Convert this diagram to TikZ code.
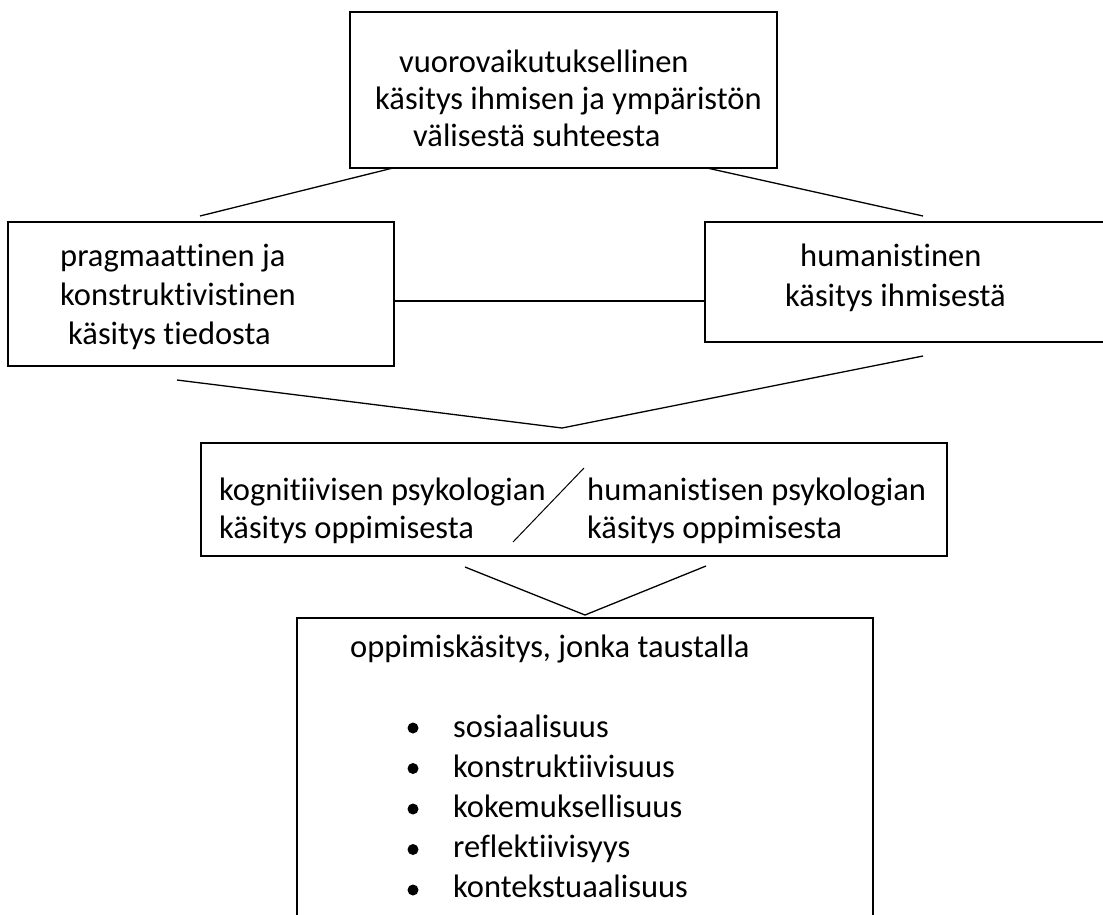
\documentclass[tikz,border=0pt]{standalone}
\usepackage{fontspec}
\setmainfont{Carlito}[Ligatures={NoCommon}]
\begin{document}
\begin{tikzpicture}[x=1pt,y=-1pt,
  line/.style={line width=1.3pt, black},
  boxline/.style={draw, line width=1.3pt, black},
  txt/.style={anchor=base west, inner sep=0pt, font=\fontsize{32.5}{38}\selectfont},
  bul/.style={circle, fill=black, inner sep=0pt, minimum size=11pt}]
\useasboundingbox (0,0) rectangle (1103,914);
\clip (0,0) rectangle (1103,914);
% boxes
\draw[boxline] (350,12) rectangle (777,168);
\draw[boxline] (8,222) rectangle (394,366);
\draw[boxline] (705,222) rectangle (1120,342);
\draw[boxline] (201,443) rectangle (947,556);
\draw[boxline] (297,618) rectangle (873,930);
% named anchor points for connectors
\coordinate (topL) at (393,168);
\coordinate (topR) at (707,168);
\coordinate (leftT) at (200,216);
\coordinate (rightT) at (923,216);
\coordinate (leftE) at (394,301);
\coordinate (rightE) at (705,301);
\coordinate (leftB) at (177,380);
\coordinate (rightB) at (923,356);
\coordinate (v1) at (562,428);
\coordinate (slashA) at (513,542);
\coordinate (slashB) at (584,468);
\coordinate (midL) at (465,567);
\coordinate (midR) at (706,566);
\coordinate (v2) at (585,615);
% connectors
\draw[line] (topL) -- (leftT);
\draw[line] (topR) -- (rightT);
\draw[line] (leftE) -- (rightE);
\draw[line] (leftB) -- (v1) -- (rightB);
\draw[line, line width=1pt] (slashA) -- (slashB);
\draw[line] (midL) -- (v2) -- (midR);
% texts
\node[txt] (t1) at (399,72) {vuorovaikutuksellinen};
\node[txt] (t2) at (375,109) {käsitys ihmisen ja ympäristön};
\node[txt] (t3) at (413,146) {välisestä suhteesta};
\node[txt] (l1) at (60,266) {pragmaattinen ja};
\node[txt] (l2) at (60,305) {konstruktivistinen};
\node[txt] (l3) at (68,344) {käsitys tiedosta};
\node[txt] (r1) at (800,266) {humanistinen};
\node[txt] (r2) at (785,306) {käsitys ihmisestä};
\node[txt] (m1) at (219,500) {kognitiivisen psykologian};
\node[txt] (m2) at (219,538) {käsitys oppimisesta};
\node[txt] (m3) at (587,500) {humanistisen psykologian};
\node[txt] (m4) at (587,538) {käsitys oppimisesta};
\node[txt] (b0) at (350,657) {oppimiskäsitys, jonka taustalla};
\foreach \i/\w in {0/sosiaalisuus,1/konstruktiivisuus,2/kokemuksellisuus,3/reflektiivisyys,4/kontekstuaalisuus}{
  \node[bul] (d\i) at (413,{728+40.5*\i}) {};
  \node[txt] (w\i) at (453,{737+40*\i}) {\w};
}
\end{tikzpicture}
\end{document}
